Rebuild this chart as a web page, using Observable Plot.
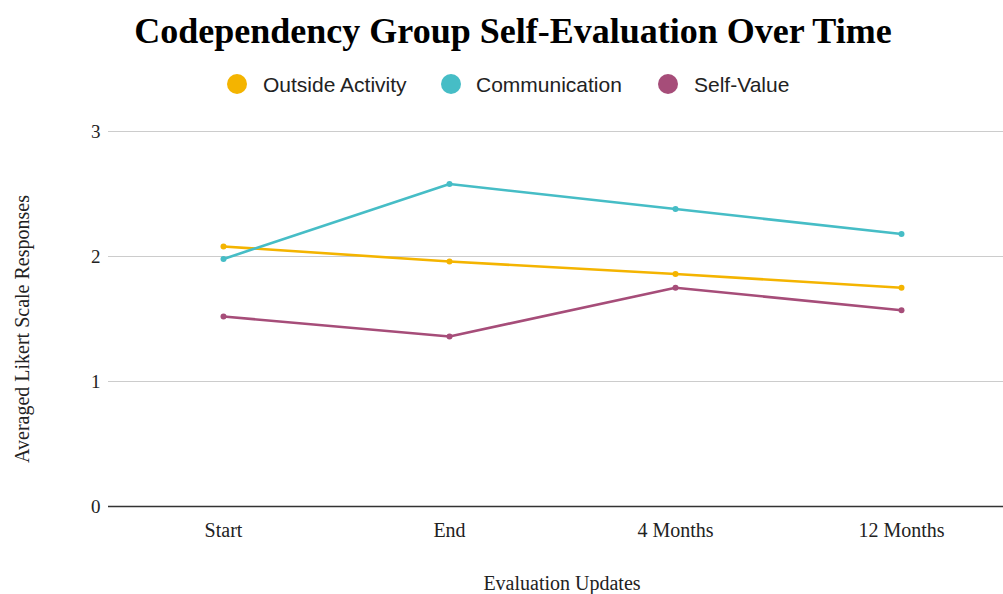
<!DOCTYPE html>
<html>
<head>
<meta charset="utf-8">
<script src="https://cdn.jsdelivr.net/npm/d3@7"></script>
<script src="https://cdn.jsdelivr.net/npm/@observablehq/plot@0.6"></script>
<style>
  html, body { margin: 0; padding: 0; background: #fff; overflow: hidden; }
  #wrap { position: relative; width: 1003px; height: 594px; }
  #title { position: absolute; left: 0; top: 13px; width: 1026px; text-align: center;
    font-family: "Liberation Serif", "Times New Roman", serif; font-weight: bold; font-size: 36px; line-height: 36px; color: #000; }
  .leg { position: absolute; top: 74px; font-family: "Liberation Sans", Arial, sans-serif; font-size: 21px; line-height: 21px; color: #222; white-space: nowrap; }
  .sw { position: absolute; top: 74px; width: 20px; height: 20px; border-radius: 50%; }
  #chart { position: absolute; left: 0; top: 110px; }
</style>
</head>
<body>
<div id="wrap">
  <div id="title">Codependency Group Self-Evaluation Over Time</div>
  <div id="legend"></div>
  <div id="chart"></div>
</div>
<script>
const categories = ["Start", "End", "4 Months", "12 Months"];
const seriesNames = ["Outside Activity", "Communication", "Self-Value"];
const outsideActivity = [2.08, 1.96, 1.86, 1.75];
const communication = [1.98, 2.58, 2.38, 2.18];
const selfValue = [1.52, 1.36, 1.75, 1.57];
const yTicks = [0, 1, 2, 3];
const colors = ["#f4b400", "#46bdc6", "#a64d79"];

const seriesValues = [outsideActivity, communication, selfValue];
const data = [];
seriesNames.forEach((s, i) => categories.forEach((c, j) => data.push({series: s, cat: c, value: seriesValues[i][j]})));

// legend
const legendPos = [{sw: 227, tx: 263}, {sw: 441, tx: 476}, {sw: 658, tx: 694}];
const legend = document.getElementById("legend");
seriesNames.forEach((s, i) => {
  const sw = document.createElement("div");
  sw.className = "sw"; sw.style.left = legendPos[i].sw + "px"; sw.style.background = colors[i];
  const tx = document.createElement("div");
  tx.className = "leg"; tx.style.left = legendPos[i].tx + "px"; tx.textContent = s;
  legend.appendChild(sw); legend.appendChild(tx);
});

const chart = Plot.plot({
  width: 1003,
  height: 484,
  marginLeft: 108,
  marginRight: 0,
  marginTop: 21,
  marginBottom: 88,
  style: {fontFamily: "'Liberation Serif', 'Times New Roman', serif", fontSize: "19px", color: "#222", background: "#fff"},
  x: {type: "point", domain: categories, range: [108, 1015], padding: 0.5},
  y: {domain: [0, 3], ticks: yTicks},
  color: {domain: seriesNames, range: colors},
  marks: [
    Plot.ruleY(yTicks.filter(d => d > 0), {stroke: "#cccccc", strokeWidth: 1}),
    Plot.ruleY([0], {stroke: "#333333", strokeWidth: 1.6}),
    Plot.axisY({ticks: yTicks, tickFormat: d => String(d), tickSize: 0, tickPadding: 8, label: null, fontSize: 19}),
    Plot.axisX({tickSize: 0, tickPadding: 16, label: null, fontSize: 20}),
    Plot.line(data, {x: "cat", y: "value", z: "series", stroke: "series", strokeWidth: 2.6}),
    Plot.dot(data, {x: "cat", y: "value", fill: "series", r: 3}),
    Plot.text(["Averaged Likert Scale Responses"], {frameAnchor: "left", textAnchor: "middle", rotate: -90, dx: -86, dy: 10, fontSize: 20, fill: "#222"}),
    Plot.text(["Evaluation Updates"], {frameAnchor: "bottom", lineAnchor: "middle", dx: 6, dy: 77, fontSize: 20, fill: "#222"})
  ]
});
document.getElementById("chart").appendChild(chart);
</script>
</body>
</html>
